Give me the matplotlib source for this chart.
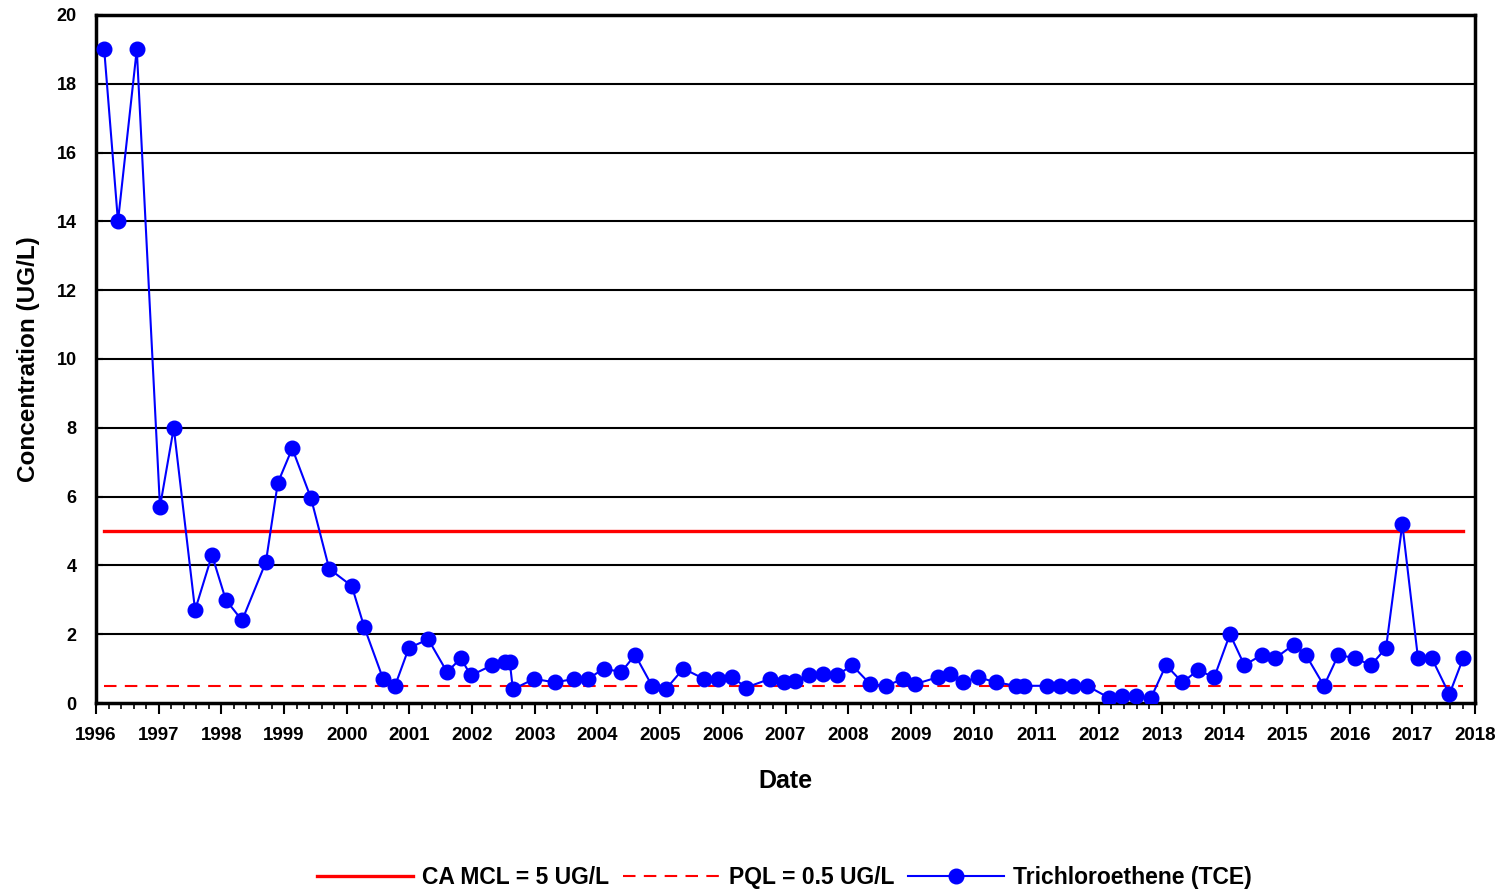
import numpy as np
import matplotlib.pyplot as plt
from matplotlib.ticker import MultipleLocator

plt.rcParams['font.family'] = ['Liberation Sans', 'DejaVu Sans']
plt.rcParams['font.weight'] = 'bold'

# sample dates (decimal years) and TCE concentrations
dates = [1996.13, 1996.35, 1996.65, 1997.02, 1997.24, 1997.58, 1997.85, 1998.07,
         1998.33, 1998.71, 1998.90, 1999.13, 1999.43, 1999.72, 2000.08, 2000.28,
         2000.58, 2000.77, 2000.99, 2001.30, 2001.60, 2001.82, 2001.98, 2002.32,
         2002.53, 2002.60, 2002.65, 2002.99, 2003.32, 2003.63, 2003.85, 2004.10,
         2004.38, 2004.60, 2004.87, 2005.09, 2005.37, 2005.70, 2005.92, 2006.15,
         2006.37, 2006.75, 2006.98, 2007.15, 2007.38, 2007.60, 2007.82, 2008.06,
         2008.35, 2008.60, 2008.88, 2009.07, 2009.43, 2009.63, 2009.83, 2010.07,
         2010.36, 2010.68, 2010.81, 2011.17, 2011.38, 2011.59, 2011.81, 2012.16,
         2012.37, 2012.59, 2012.83, 2013.07, 2013.33, 2013.58, 2013.84, 2014.09,
         2014.32, 2014.60, 2014.81, 2015.11, 2015.30, 2015.59, 2015.82, 2016.09,
         2016.34, 2016.58, 2016.84, 2017.09, 2017.31, 2017.59, 2017.81]
tce = [19, 14, 19, 5.7, 8.0, 2.7, 4.3, 3.0,
       2.4, 4.1, 6.4, 7.4, 5.95, 3.9, 3.4, 2.2,
       0.7, 0.5, 1.6, 1.85, 0.9, 1.3, 0.8, 1.1,
       1.2, 1.2, 0.4, 0.7, 0.6, 0.7, 0.7, 1.0,
       0.9, 1.4, 0.5, 0.4, 1.0, 0.7, 0.7, 0.75,
       0.45, 0.7, 0.6, 0.65, 0.8, 0.85, 0.8, 1.1,
       0.55, 0.5, 0.7, 0.55, 0.75, 0.85, 0.6, 0.75,
       0.6, 0.5, 0.5, 0.5, 0.5, 0.5, 0.5, 0.15,
       0.2, 0.2, 0.15, 1.1, 0.6, 0.95, 0.75, 2.0,
       1.1, 1.4, 1.3, 1.7, 1.4, 0.5, 1.4, 1.3,
       1.1, 1.6, 5.2, 1.3, 1.3, 0.25, 1.3]

mcl = 5.0
pql = 0.5
years = list(range(1996, 2019))

fig = plt.figure(figsize=(15.03, 8.96), dpi=100)
ax = fig.add_axes([0.0639, 0.2154, 0.9175, 0.7679])

# horizontal grid
for v in range(2, 20, 2):
    ax.axhline(v, color='black', lw=1.5, zorder=1)

ax.plot([dates[0], dates[-1]], [mcl, mcl], color='#ff0000', lw=2.4, zorder=2,
        label='CA MCL = 5 UG/L')
ax.plot([dates[0], dates[-1]], [pql, pql], color='#ff0000', lw=1.5, ls=(0, (6, 4)),
        zorder=2, label='PQL = 0.5 UG/L')
ax.plot(dates, tce, color='#0000ff', lw=1.5, marker='o', ms=10.5, zorder=3,
        label='Trichloroethene (TCE)')

ax.set_xlim(1996, 2018)
ax.set_ylim(0, 20)
ax.set_xticks(years)
ax.set_xticklabels([str(y) for y in years], fontsize=13.5, fontweight='bold')
ax.xaxis.set_minor_locator(MultipleLocator(0.2))
ax.yaxis.set_major_locator(MultipleLocator(2))
ax.tick_params(axis='y', labelsize=13, direction='in', length=5, width=1.5, pad=14)
ax.tick_params(axis='x', which='major', direction='out', length=8, width=1.5, pad=9)
ax.tick_params(axis='x', which='minor', direction='out', length=4, width=1.2)
for lbl in ax.get_yticklabels():
    lbl.set_fontweight('bold')
for s in ax.spines.values():
    s.set_linewidth(2.5)

ax.set_xlabel('Date', fontsize=18, fontweight='bold', labelpad=18)
ax.set_ylabel('Concentration (UG/L)', fontsize=17.5, fontweight='bold', labelpad=12)

fig.legend(loc='lower center', bbox_to_anchor=(0.522, -0.015), ncol=3, frameon=False,
           handlelength=4.2, columnspacing=0.6, handletextpad=0.4,
           prop={'size': 16.5, 'weight': 'bold'})

fig.savefig('out.png', dpi=100)
